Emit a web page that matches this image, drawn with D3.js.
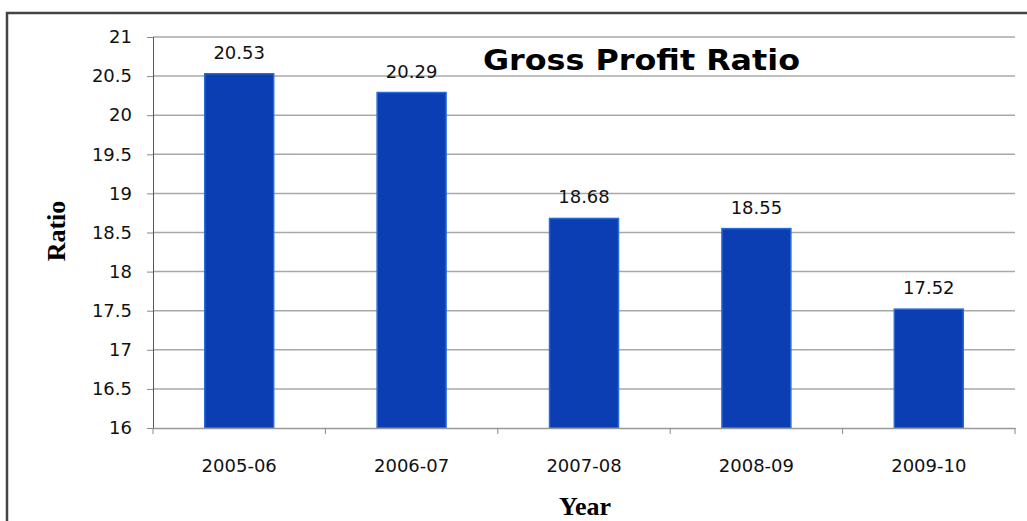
<!DOCTYPE html>
<html><head><meta charset="utf-8">
<script src="https://cdn.jsdelivr.net/npm/d3@7"></script>
<style>body{margin:0;background:#fff}svg{display:block}</style>
</head><body>
<script>
const categories = ["2005-06","2006-07","2007-08","2008-09","2009-10"];
const values = [20.53, 20.29, 18.68, 18.55, 17.52];
const yTicks = [16,16.5,17,17.5,18,18.5,19,19.5,20,20.5,21];
const title = "Gross Profit Ratio";
const xTitle = "Year";
const yTitle = "Ratio";

const W = 1027, H = 521;
const sans = "'DejaVu Sans', sans-serif";
const serif = "'Liberation Serif', serif";
const svg = d3.select("body").append("svg").attr("width", W).attr("height", H);
svg.append("rect").attr("width", W).attr("height", H).attr("fill", "#fff");
// frame
svg.append("path").attr("d", `M7,${H+2} V13 H${W+2}`).attr("fill","none").attr("stroke","#444").attr("stroke-width",2.5);

const m = {left:153, right:1015, top:37, bottom:428};
const x = d3.scaleBand().domain(categories).range([m.left, m.right]).paddingInner(0.6).paddingOuter(0.3);
const y = d3.scaleLinear().domain([16,21]).range([m.bottom, m.top]);

// gridlines
svg.append("g").selectAll("line").data(yTicks.slice(1)).join("line")
  .attr("x1", m.left).attr("x2", m.right).attr("y1", d=>y(d)).attr("y2", d=>y(d))
  .attr("stroke","#a8a8a8").attr("stroke-width",1.5);

// bars
svg.append("g").selectAll("rect").data(values).join("rect")
  .attr("x",(d,i)=>x(categories[i])).attr("width",x.bandwidth())
  .attr("y",d=>y(d)).attr("height",d=>y(16)-y(d))
  .attr("fill","#0b3db3").attr("stroke","#2a6ad8").attr("stroke-width",1.5);

// y axis
const yAxis = svg.append("g").attr("transform",`translate(${m.left},0)`)
  .call(d3.axisLeft(y).tickValues(yTicks).tickSize(6).tickPadding(15).tickFormat(d3.format("")));
yAxis.select(".domain").attr("stroke","#555");
yAxis.selectAll(".tick line").attr("stroke","#888");
yAxis.selectAll("text").attr("font-family",sans).attr("font-size",18).attr("fill","#111");

// x axis
const xAxis = svg.append("g").attr("transform",`translate(0,${m.bottom})`)
  .call(d3.axisBottom(x).tickSize(0).tickPadding(31));
xAxis.select(".domain").attr("stroke","#999").attr("stroke-width",1.5);
xAxis.selectAll("text").attr("font-family",sans).attr("font-size",18).attr("fill","#111");
const step = x.step();
svg.append("g").selectAll("line").data(d3.range(categories.length+1)).join("line")
  .attr("x1",i=>m.left+i*step).attr("x2",i=>m.left+i*step)
  .attr("y1",m.bottom).attr("y2",m.bottom+6).attr("stroke","#888");

// value labels
svg.append("g").selectAll("text").data(values).join("text")
  .attr("x",(d,i)=>x(categories[i])+x.bandwidth()/2).attr("y",d=>y(d)-15)
  .attr("text-anchor","middle").attr("font-family",sans).attr("font-size",18).attr("fill","#111")
  .text(d=>d.toFixed(2));

// title
svg.append("text").attr("x",483).attr("y",70)
  .attr("font-family",sans).attr("font-weight","bold").attr("font-size",28)
  .attr("textLength",317).attr("lengthAdjust","spacingAndGlyphs").attr("fill","#000").text(title);

// axis titles
svg.append("text").attr("x",585).attr("y",515).attr("text-anchor","middle")
  .attr("font-family",serif).attr("font-weight","bold").attr("font-size",26).text(xTitle);
svg.append("text").attr("transform","translate(65,231) rotate(-90)").attr("text-anchor","middle")
  .attr("font-family",serif).attr("font-weight","bold").attr("font-size",26).text(yTitle);
</script>
</body></html>
